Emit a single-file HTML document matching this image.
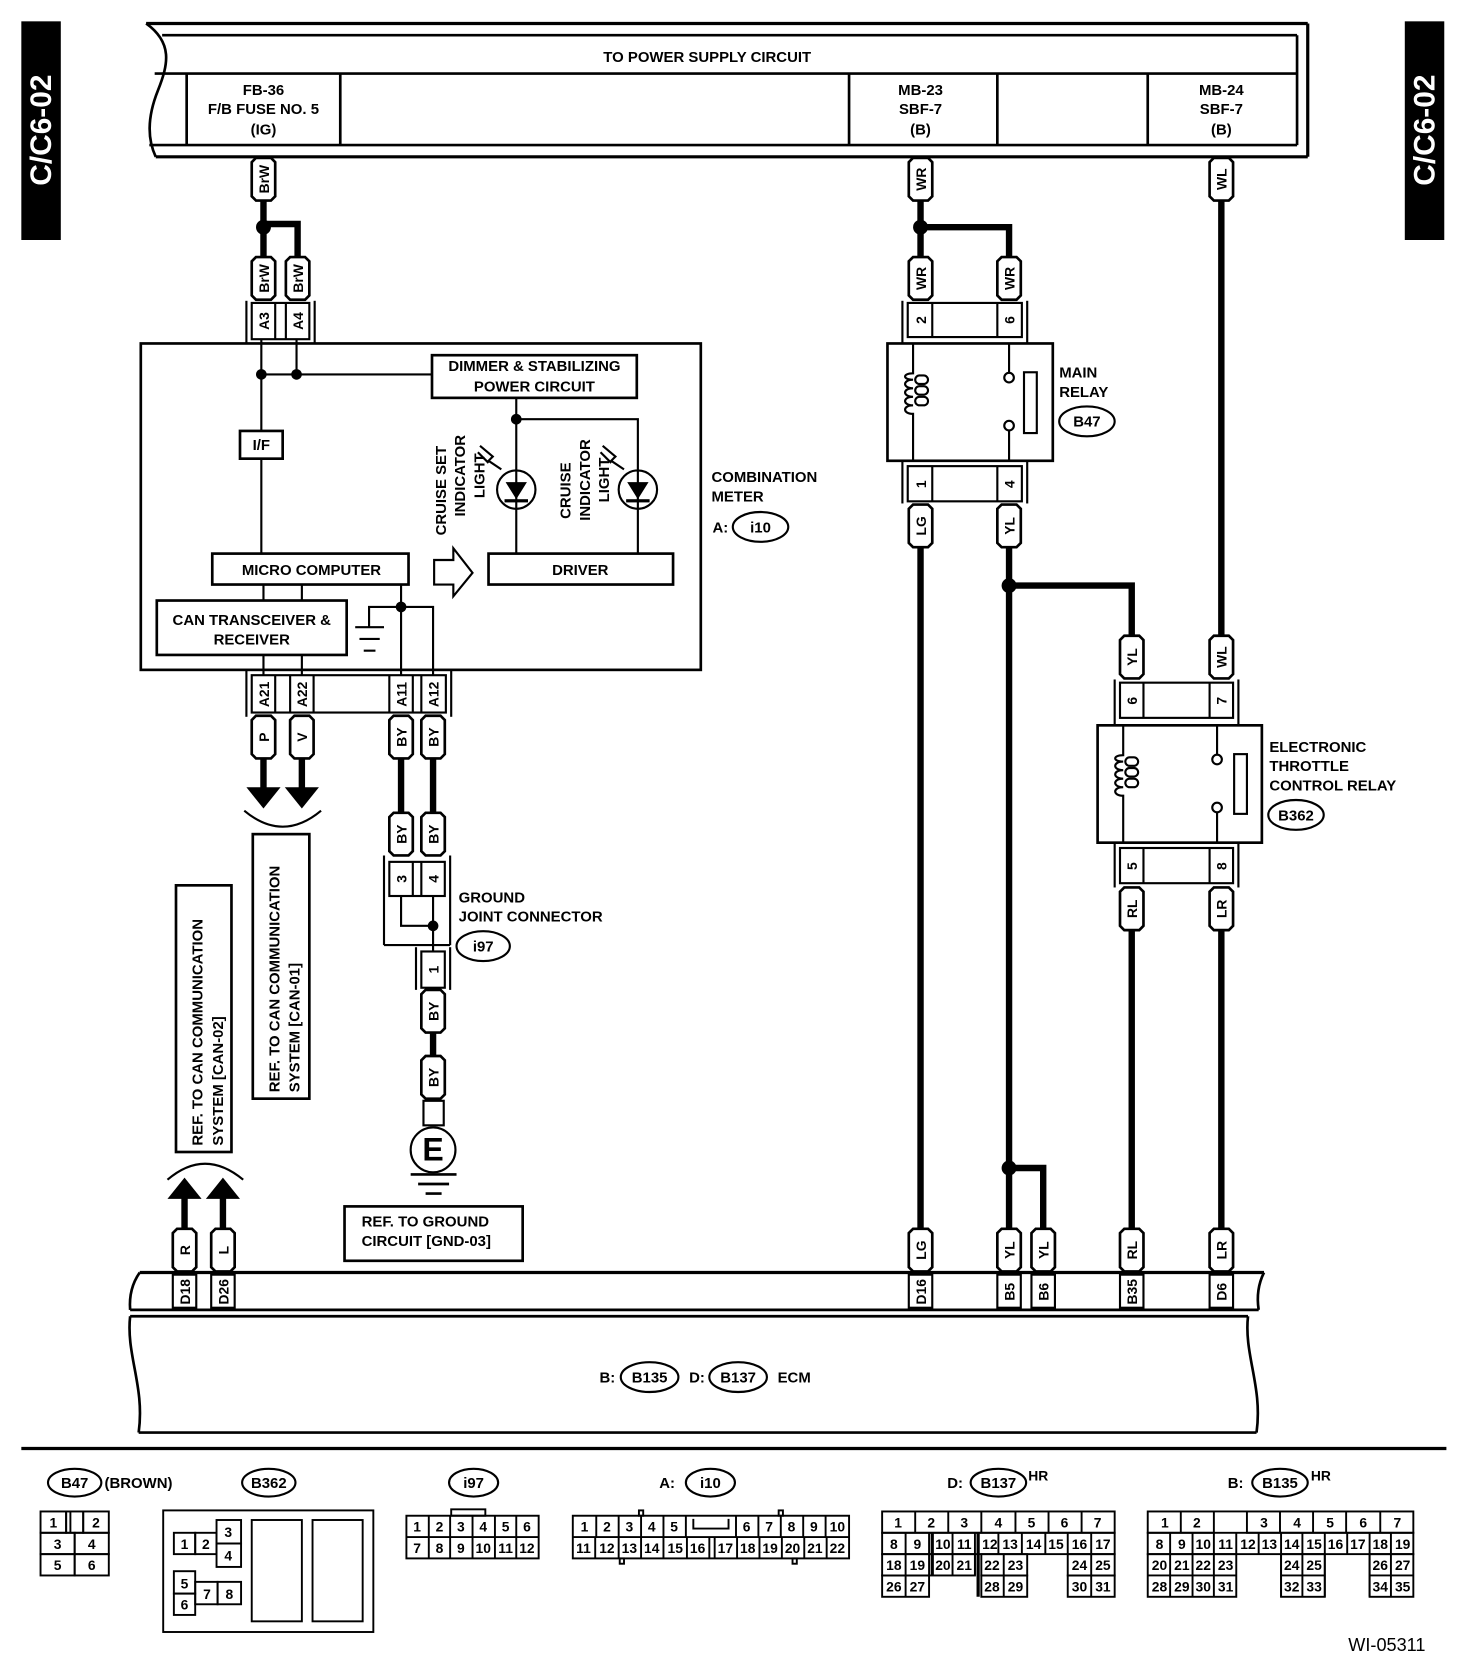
<!DOCTYPE html>
<html><head><meta charset="utf-8"><style>
html,body{margin:0;padding:0;background:#fff;}
svg{display:block;}
text{font-family:"Liberation Sans",sans-serif;font-weight:bold;fill:#000;}
</style></head><body>
<svg width="1472" height="1668" viewBox="0 0 1380 1563.75" preserveAspectRatio="none" xmlns="http://www.w3.org/2000/svg">
<defs>
<g id="pill"><path d="M-7,-20 H7 L11,-16 V16 L7,20 H-7 L-11,16 V-16 Z" fill="#fff" stroke="#000" stroke-width="2.5"/></g>
</defs>

<!-- side tabs -->
<rect x="20" y="20" width="37" height="205" fill="#000"/>
<text transform="translate(48,122) rotate(-90)" text-anchor="middle" font-size="28" style="fill:#fff">C/C6-02</text>
<rect x="1317" y="20" width="37" height="205" fill="#000"/>
<text transform="translate(1345,122) rotate(-90)" text-anchor="middle" font-size="28" style="fill:#fff">C/C6-02</text>

<!-- top power supply bar -->
<g fill="none" stroke="#000" stroke-width="2.5">
<path d="M137,22 C162,40 158,60 148,85 C138,110 138,130 146,147"/>
<line x1="137" y1="22" x2="1226" y2="22" stroke-width="3"/>
<line x1="152" y1="33" x2="1216" y2="33"/>
<line x1="145" y1="69" x2="1216" y2="69"/>
<line x1="140" y1="136" x2="1216" y2="136"/>
<line x1="146" y1="147" x2="1226" y2="147" stroke-width="3"/>
<line x1="1216" y1="33" x2="1216" y2="136"/>
<line x1="1226" y1="22" x2="1226" y2="147" stroke-width="3"/>
<line x1="175" y1="69" x2="175" y2="136"/>
<line x1="319" y1="69" x2="319" y2="136"/>
<line x1="796" y1="69" x2="796" y2="136"/>
<line x1="935" y1="69" x2="935" y2="136"/>
<line x1="1076" y1="69" x2="1076" y2="136"/>
</g>
<g font-size="14" text-anchor="middle">
<text x="663" y="58">TO POWER SUPPLY CIRCUIT</text>
<text x="247" y="89">FB-36</text><text x="247" y="107">F/B FUSE NO. 5</text><text x="247" y="126">(IG)</text>
<text x="863" y="89">MB-23</text><text x="863" y="107">SBF-7</text><text x="863" y="126">(B)</text>
<text x="1145" y="89">MB-24</text><text x="1145" y="107">SBF-7</text><text x="1145" y="126">(B)</text>
</g>

<!-- thick wires -->
<g fill="none" stroke="#000" stroke-width="6">
<line x1="247" y1="188" x2="247" y2="240"/>
<polyline points="247,210 279,210 279,240"/>
<line x1="863" y1="188" x2="863" y2="240"/>
<polyline points="863,213 946,213 946,240"/>
<line x1="1145" y1="188" x2="1145" y2="595"/>
<line x1="863" y1="514" x2="863" y2="1152"/>
<line x1="946" y1="514" x2="946" y2="1152"/>
<polyline points="946,549 1061,549 1061,595"/>
<polyline points="946,1095 978,1095 978,1152"/>
<line x1="1061" y1="872" x2="1061" y2="1152"/>
<line x1="1145" y1="872" x2="1145" y2="1152"/>
<line x1="376" y1="710" x2="376" y2="762"/>
<line x1="406" y1="710" x2="406" y2="762"/>
<line x1="406" y1="968" x2="406" y2="990"/>
<line x1="247" y1="710" x2="247" y2="740"/>
<line x1="283" y1="710" x2="283" y2="740"/>
<line x1="173" y1="1122" x2="173" y2="1152"/>
<line x1="209" y1="1122" x2="209" y2="1152"/>
</g>
<g fill="#000">
<circle cx="247" cy="213" r="7"/><circle cx="863" cy="213" r="7"/>
<circle cx="946" cy="549" r="7"/><circle cx="946" cy="1095" r="7"/>
<polygon points="231,738 263,738 247,758"/><polygon points="267,738 299,738 283,758"/>
<polygon points="157,1124 189,1124 173,1104"/><polygon points="193,1124 225,1124 209,1104"/>
</g>
<g fill="none" stroke="#000" stroke-width="2">
<path d="M229,760 Q265,790 301,760"/>
<path d="M157,1106 Q192,1076 228,1106"/>
</g>

<!-- pills -->
<g font-size="13">
<use href="#pill" x="247" y="168"/><text transform="translate(252,168) rotate(-90)" text-anchor="middle">BrW</text>
<use href="#pill" x="247" y="261"/><text transform="translate(252,261) rotate(-90)" text-anchor="middle">BrW</text>
<use href="#pill" x="279" y="261"/><text transform="translate(284,261) rotate(-90)" text-anchor="middle">BrW</text>
<use href="#pill" x="863" y="168"/><text transform="translate(868,168) rotate(-90)" text-anchor="middle">WR</text>
<use href="#pill" x="863" y="261"/><text transform="translate(868,261) rotate(-90)" text-anchor="middle">WR</text>
<use href="#pill" x="946" y="261"/><text transform="translate(951,261) rotate(-90)" text-anchor="middle">WR</text>
<use href="#pill" x="1145" y="168"/><text transform="translate(1150,168) rotate(-90)" text-anchor="middle">WL</text>
<use href="#pill" x="863" y="493"/><text transform="translate(868,493) rotate(-90)" text-anchor="middle">LG</text>
<use href="#pill" x="946" y="493"/><text transform="translate(951,493) rotate(-90)" text-anchor="middle">YL</text>
<use href="#pill" x="1061" y="616"/><text transform="translate(1066,616) rotate(-90)" text-anchor="middle">YL</text>
<use href="#pill" x="1145" y="616"/><text transform="translate(1150,616) rotate(-90)" text-anchor="middle">WL</text>
<use href="#pill" x="1061" y="852"/><text transform="translate(1066,852) rotate(-90)" text-anchor="middle">RL</text>
<use href="#pill" x="1145" y="852"/><text transform="translate(1150,852) rotate(-90)" text-anchor="middle">LR</text>
<use href="#pill" x="247" y="691"/><text transform="translate(252,691) rotate(-90)" text-anchor="middle">P</text>
<use href="#pill" x="283" y="691"/><text transform="translate(288,691) rotate(-90)" text-anchor="middle">V</text>
<use href="#pill" x="376" y="691"/><text transform="translate(381,691) rotate(-90)" text-anchor="middle">BY</text>
<use href="#pill" x="406" y="691"/><text transform="translate(411,691) rotate(-90)" text-anchor="middle">BY</text>
<use href="#pill" x="376" y="782"/><text transform="translate(381,782) rotate(-90)" text-anchor="middle">BY</text>
<use href="#pill" x="406" y="782"/><text transform="translate(411,782) rotate(-90)" text-anchor="middle">BY</text>
<use href="#pill" x="406" y="948"/><text transform="translate(411,948) rotate(-90)" text-anchor="middle">BY</text>
<use href="#pill" x="406" y="1010"/><text transform="translate(411,1010) rotate(-90)" text-anchor="middle">BY</text>
<use href="#pill" x="173" y="1172"/><text transform="translate(178,1172) rotate(-90)" text-anchor="middle">R</text>
<use href="#pill" x="209" y="1172"/><text transform="translate(214,1172) rotate(-90)" text-anchor="middle">L</text>
<use href="#pill" x="863" y="1172"/><text transform="translate(868,1172) rotate(-90)" text-anchor="middle">LG</text>
<use href="#pill" x="946" y="1172"/><text transform="translate(951,1172) rotate(-90)" text-anchor="middle">YL</text>
<use href="#pill" x="978" y="1172"/><text transform="translate(983,1172) rotate(-90)" text-anchor="middle">YL</text>
<use href="#pill" x="1061" y="1172"/><text transform="translate(1066,1172) rotate(-90)" text-anchor="middle">RL</text>
<use href="#pill" x="1145" y="1172"/><text transform="translate(1150,1172) rotate(-90)" text-anchor="middle">LR</text>
</g>

<!-- connectors (shell + pins) -->
<g fill="none" stroke="#000" stroke-width="2">
<!-- A3 A4 -->
<line x1="231" y1="282" x2="231" y2="322"/><line x1="295" y1="282" x2="295" y2="322"/>
<rect x="236" y="284" width="54" height="34"/><line x1="258" y1="284" x2="258" y2="318"/><line x1="268" y1="284" x2="268" y2="318"/>
<!-- 2 6 -->
<line x1="846" y1="282" x2="846" y2="322"/><line x1="963" y1="282" x2="963" y2="322"/>
<rect x="851" y="284" width="107" height="32"/><line x1="874" y1="284" x2="874" y2="316"/><line x1="935" y1="284" x2="935" y2="316"/>
<!-- 1 4 -->
<line x1="846" y1="432" x2="846" y2="472"/><line x1="963" y1="432" x2="963" y2="472"/>
<rect x="851" y="437" width="107" height="33"/><line x1="874" y1="437" x2="874" y2="470"/><line x1="935" y1="437" x2="935" y2="470"/>
<!-- 6 7 -->
<line x1="1045" y1="637" x2="1045" y2="680"/><line x1="1161" y1="637" x2="1161" y2="680"/>
<rect x="1050" y="640" width="106" height="33"/><line x1="1072" y1="640" x2="1072" y2="673"/><line x1="1134" y1="640" x2="1134" y2="673"/>
<!-- 5 8 -->
<line x1="1045" y1="790" x2="1045" y2="832"/><line x1="1161" y1="790" x2="1161" y2="832"/>
<rect x="1050" y="795" width="106" height="33"/><line x1="1072" y1="795" x2="1072" y2="828"/><line x1="1134" y1="795" x2="1134" y2="828"/>
<!-- A21 A22 A11 A12 -->
<line x1="231" y1="628" x2="231" y2="672"/><line x1="423" y1="628" x2="423" y2="672"/>
<rect x="236" y="633" width="182" height="35"/>
<line x1="258" y1="633" x2="258" y2="668"/><line x1="272" y1="633" x2="272" y2="668"/><line x1="294" y1="633" x2="294" y2="668"/>
<line x1="365" y1="633" x2="365" y2="668"/><line x1="387" y1="633" x2="387" y2="668"/><line x1="395" y1="633" x2="395" y2="668"/>
<!-- ground joint 3 4 -->
<line x1="360" y1="802" x2="360" y2="886"/><line x1="422" y1="802" x2="422" y2="886"/>
<rect x="365" y="808" width="52" height="32"/><line x1="387" y1="808" x2="387" y2="840"/><line x1="395" y1="808" x2="395" y2="840"/>
<line x1="360" y1="886" x2="422" y2="886"/>
<polyline points="376,840 376,868 406,868"/><line x1="406" y1="840" x2="406" y2="892"/>
<!-- 1 -->
<line x1="390" y1="888" x2="390" y2="928"/><line x1="422" y1="888" x2="422" y2="928"/>
<rect x="395" y="892" width="22" height="34"/>
<!-- ground E -->
<rect x="397" y="1032" width="19" height="23"/>
<circle cx="406" cy="1078" r="21"/>
</g>
<circle cx="406" cy="868" r="5"/>
<g stroke="#000" stroke-width="2.5">
<line x1="385" y1="1101" x2="428" y2="1101"/><line x1="392" y1="1110" x2="421" y2="1110"/><line x1="399" y1="1119" x2="414" y2="1119"/>
</g>
<text x="406" y="1088" font-size="30" text-anchor="middle" font-family="Liberation Sans">E</text>

<g font-size="13" text-anchor="middle">
<text transform="translate(252,301) rotate(-90)">A3</text>
<text transform="translate(284,301) rotate(-90)">A4</text>
<text transform="translate(868,300) rotate(-90)">2</text>
<text transform="translate(951,300) rotate(-90)">6</text>
<text transform="translate(868,454) rotate(-90)">1</text>
<text transform="translate(951,454) rotate(-90)">4</text>
<text transform="translate(1066,657) rotate(-90)">6</text>
<text transform="translate(1150,657) rotate(-90)">7</text>
<text transform="translate(1066,812) rotate(-90)">5</text>
<text transform="translate(1150,812) rotate(-90)">8</text>
<text transform="translate(252,651) rotate(-90)">A21</text>
<text transform="translate(288,651) rotate(-90)">A22</text>
<text transform="translate(381,651) rotate(-90)">A11</text>
<text transform="translate(411,651) rotate(-90)">A12</text>
<text transform="translate(381,824) rotate(-90)">3</text>
<text transform="translate(411,824) rotate(-90)">4</text>
<text transform="translate(411,909) rotate(-90)">1</text>
</g>

<!-- combination meter -->
<g fill="none" stroke="#000" stroke-width="2.5">
<rect x="132" y="322" width="525" height="306"/>
<rect x="405" y="333" width="192" height="40"/>
<rect x="225" y="404" width="40" height="26"/>
<rect x="199" y="519" width="184" height="29"/>
<rect x="147" y="563" width="178" height="51"/>
<rect x="458" y="519" width="173" height="29"/>
</g>
<g fill="none" stroke="#000" stroke-width="2">
<line x1="245" y1="318" x2="245" y2="404"/><line x1="245" y1="430" x2="245" y2="519"/>
<line x1="278" y1="318" x2="278" y2="351"/>
<line x1="245" y1="351" x2="405" y2="351"/>
<line x1="484" y1="373" x2="484" y2="519"/>
<polyline points="484,393 598,393 598,519"/>
<circle cx="484" cy="459" r="18"/><circle cx="598" cy="459" r="18"/>
<line x1="247" y1="548" x2="247" y2="563"/><line x1="283" y1="548" x2="283" y2="563"/>
<line x1="247" y1="614" x2="247" y2="633"/><line x1="283" y1="614" x2="283" y2="633"/>
<line x1="376" y1="548" x2="376" y2="633"/>
<polyline points="346,588 346,569 406,569 406,633"/>
<line x1="333" y1="588" x2="360" y2="588"/><line x1="337" y1="599" x2="356" y2="599"/><line x1="341" y1="610" x2="352" y2="610"/>
<path d="M407,525 H425 V514 L443,537 L425,559 V548 H407 Z"/>
</g>
<g fill="#000">
<circle cx="245" cy="351" r="5"/><circle cx="278" cy="351" r="5"/><circle cx="484" cy="393" r="5"/><circle cx="376" cy="569" r="5"/>
<polygon points="474,452 494,452 484,468"/><rect x="473" y="468" width="22" height="3"/>
<polygon points="588,452 608,452 598,468"/><rect x="587" y="468" width="22" height="3"/>
</g>
<g fill="none" stroke="#000" stroke-width="2">
<path d="M450,418 L462,428 L458,432 L470,440"/><path d="M448,424 L458,434"/>
<path d="M565,418 L577,428 L573,432 L585,440"/><path d="M563,424 L573,434"/>
</g>
<g font-size="14" text-anchor="middle">
<text x="501" y="348">DIMMER &amp; STABILIZING</text>
<text x="501" y="367">POWER CIRCUIT</text>
<text x="245" y="422">I/F</text>
<text x="292" y="539">MICRO COMPUTER</text>
<text x="544" y="539">DRIVER</text>
<text x="236" y="586">CAN TRANSCEIVER &amp;</text>
<text x="236" y="604">RECEIVER</text>
<text transform="translate(418,460) rotate(-90)">CRUISE SET</text>
<text transform="translate(436,446) rotate(-90)">INDICATOR</text>
<text transform="translate(454,446) rotate(-90)">LIGHT</text>
<text transform="translate(535,460) rotate(-90)">CRUISE</text>
<text transform="translate(553,450) rotate(-90)">INDICATOR</text>
<text transform="translate(571,450) rotate(-90)">LIGHT</text>
</g>
<g font-size="14">
<text x="667" y="452">COMBINATION</text>
<text x="667" y="470">METER</text>
<text x="668" y="499">A:</text>
<text x="993" y="354">MAIN</text>
<text x="993" y="372">RELAY</text>
<text x="1190" y="705">ELECTRONIC</text>
<text x="1190" y="723">THROTTLE</text>
<text x="1190" y="741">CONTROL RELAY</text>
<text x="430" y="846">GROUND</text>
<text x="430" y="864">JOINT CONNECTOR</text>
</g>
<g fill="none" stroke="#000" stroke-width="2">
<ellipse cx="713" cy="494" rx="26" ry="14"/>
<ellipse cx="1019" cy="395" rx="26" ry="14"/>
<ellipse cx="1215" cy="764" rx="26" ry="14"/>
<ellipse cx="453" cy="887" rx="25" ry="14"/>
</g>
<g font-size="14" text-anchor="middle">
<text x="713" y="499">i10</text><text x="1019" y="400">B47</text><text x="1215" y="769">B362</text><text x="453" y="892">i97</text>
</g>

<!-- relays -->
<g fill="none" stroke="#000" stroke-width="2.5">
<rect x="832" y="322" width="155" height="110"/>
<rect x="1029" y="680" width="154" height="110"/>
</g>
<g fill="none" stroke="#000" stroke-width="2">
<path d="M856,322 V350 C846,350 846,356 856,356 C846,356 846,364 856,364 C846,364 846,372 856,372 C846,372 846,380 856,380 C846,380 846,388 856,388 V432"/>
<rect x="858" y="352" width="12" height="8" rx="4"/><rect x="858" y="362" width="12" height="8" rx="4"/><rect x="858" y="372" width="12" height="8" rx="4"/>
<line x1="946" y1="322" x2="946" y2="349"/><circle cx="946" cy="354" r="4.5"/>
<line x1="946" y1="432" x2="946" y2="404"/><circle cx="946" cy="399" r="4.5"/>
<rect x="960" y="349" width="12" height="57"/>
<path d="M1053,680 V708 C1043,708 1043,714 1053,714 C1043,714 1043,722 1053,722 C1043,722 1043,730 1053,730 C1043,730 1043,738 1053,738 C1043,738 1043,746 1053,746 V790"/>
<rect x="1055" y="710" width="12" height="8" rx="4"/><rect x="1055" y="720" width="12" height="8" rx="4"/><rect x="1055" y="730" width="12" height="8" rx="4"/>
<line x1="1141" y1="680" x2="1141" y2="707"/><circle cx="1141" cy="712" r="4.5"/>
<line x1="1141" y1="790" x2="1141" y2="762"/><circle cx="1141" cy="757" r="4.5"/>
<rect x="1157" y="707" width="12" height="56"/>
</g>

<!-- ref boxes -->
<g fill="none" stroke="#000" stroke-width="2.5">
<rect x="237" y="782" width="53" height="248"/>
<rect x="165" y="830" width="52" height="250"/>
<rect x="323" y="1131" width="167" height="51"/>
</g>
<g font-size="14">
<text transform="translate(262,1024) rotate(-90)">REF. TO CAN COMMUNICATION</text>
<text transform="translate(281,1024) rotate(-90)">SYSTEM [CAN-01]</text>
<text transform="translate(190,1074) rotate(-90)">REF. TO CAN COMMUNICATION</text>
<text transform="translate(209,1074) rotate(-90)">SYSTEM [CAN-02]</text>
<text x="339" y="1150">REF. TO GROUND</text>
<text x="339" y="1168">CIRCUIT [GND-03]</text>
</g>

<!-- ECM -->
<g fill="none" stroke="#000" stroke-width="2.5">
<line x1="131" y1="1193" x2="1185" y2="1193" stroke-width="3"/>
<path d="M131,1193 C124,1203 121,1215 122,1228"/>
<path d="M1185,1193 C1180,1203 1178,1215 1180,1228"/>
<line x1="122" y1="1228" x2="1180" y2="1228"/>
<line x1="122" y1="1234" x2="1170" y2="1234"/>
<line x1="130" y1="1343" x2="1178" y2="1343"/>
<path d="M122,1234 C118,1270 136,1300 130,1343"/>
<path d="M1170,1234 C1166,1270 1184,1300 1178,1343"/>
</g>
<g fill="none" stroke="#000" stroke-width="2">
<rect x="162" y="1195" width="22" height="31"/><rect x="198" y="1195" width="22" height="31"/>
<rect x="852" y="1195" width="22" height="31"/><rect x="935" y="1195" width="22" height="31"/>
<rect x="967" y="1195" width="22" height="31"/><rect x="1050" y="1195" width="22" height="31"/>
<rect x="1134" y="1195" width="22" height="31"/>
</g>
<g font-size="13" text-anchor="middle">
<text transform="translate(178,1211) rotate(-90)">D18</text>
<text transform="translate(214,1211) rotate(-90)">D26</text>
<text transform="translate(868,1211) rotate(-90)">D16</text>
<text transform="translate(951,1211) rotate(-90)">B5</text>
<text transform="translate(983,1211) rotate(-90)">B6</text>
<text transform="translate(1066,1211) rotate(-90)">B35</text>
<text transform="translate(1150,1211) rotate(-90)">D6</text>
</g>
<g font-size="14">
<text x="562" y="1296">B:</text>
<text x="646" y="1296">D:</text>
<text x="729" y="1296">ECM</text>
</g>
<g fill="none" stroke="#000" stroke-width="2">
<ellipse cx="609" cy="1291" rx="27" ry="14"/>
<ellipse cx="692" cy="1291" rx="27" ry="14"/>
</g>
<g font-size="14" text-anchor="middle"><text x="609" y="1296">B135</text><text x="692" y="1296">B137</text></g>

<line x1="20" y1="1358" x2="1356" y2="1358" stroke="#000" stroke-width="3"/>

<!-- connector faces -->
<g fill="none" stroke="#000" stroke-width="2">
<ellipse cx="70" cy="1390" rx="25" ry="13"/>
<ellipse cx="252" cy="1390" rx="25" ry="13"/>
<ellipse cx="444" cy="1390" rx="23" ry="13"/>
<ellipse cx="666" cy="1390" rx="23" ry="13"/>
<ellipse cx="936" cy="1390" rx="26" ry="13"/>
<ellipse cx="1200" cy="1390" rx="26" ry="13"/>
</g>
<g font-size="14">
<text x="70" y="1395" text-anchor="middle">B47</text><text x="98" y="1395">(BROWN)</text>
<text x="252" y="1395" text-anchor="middle">B362</text>
<text x="444" y="1395" text-anchor="middle">i97</text>
<text x="618" y="1395">A:</text><text x="666" y="1395" text-anchor="middle">i10</text>
<text x="888" y="1395">D:</text><text x="936" y="1395" text-anchor="middle">B137</text><text x="964" y="1388" font-size="13">HR</text>
<text x="1151" y="1395">B:</text><text x="1200" y="1395" text-anchor="middle">B135</text><text x="1229" y="1388" font-size="13">HR</text>
<text x="1264" y="1548" font-size="17" style="font-weight:normal">WI-05311</text>
</g>

<g fill="none" stroke="#000" stroke-width="1.8">
<!-- B47 -->
<rect x="38" y="1417" width="24" height="20"/><rect x="62" y="1417" width="16" height="20"/><line x1="66" y1="1417" x2="66" y2="1437"/><rect x="78" y="1417" width="24" height="20"/>
<rect x="38" y="1437" width="32" height="20"/><rect x="70" y="1437" width="32" height="20"/>
<rect x="38" y="1457" width="32" height="20"/><rect x="70" y="1457" width="32" height="20"/>
<!-- B362 -->
<rect x="153" y="1416" width="197" height="114"/>
<rect x="163" y="1437" width="20" height="20"/><rect x="183" y="1437" width="20" height="20"/>
<rect x="203" y="1425" width="23" height="22"/><rect x="203" y="1447" width="23" height="22"/>
<rect x="163" y="1473" width="20" height="21"/><rect x="163" y="1494" width="20" height="20"/>
<rect x="183" y="1483" width="21" height="21"/><rect x="204" y="1483" width="22" height="21"/>
<rect x="236" y="1425" width="47" height="95"/><rect x="293" y="1425" width="47" height="95"/>
<!-- i97 -->
<rect x="423" y="1415" width="32" height="6"/>
<rect x="381" y="1421" width="124" height="40"/>
<line x1="381" y1="1441" x2="505" y2="1441"/>
<line x1="402" y1="1421" x2="402" y2="1461"/><line x1="422" y1="1421" x2="422" y2="1461"/><line x1="443" y1="1421" x2="443" y2="1461"/><line x1="464" y1="1421" x2="464" y2="1461"/><line x1="484" y1="1421" x2="484" y2="1461"/>
<!-- i10 -->
<rect x="537" y="1421" width="259" height="40"/>
<line x1="537" y1="1441" x2="796" y2="1441"/>
<rect x="599" y="1416" width="4" height="5"/><rect x="730" y="1416" width="4" height="5"/>
<rect x="581" y="1461" width="4" height="5"/><rect x="743" y="1461" width="4" height="5"/>
<line x1="559" y1="1421" x2="559" y2="1441"/><line x1="580" y1="1421" x2="580" y2="1441"/><line x1="601" y1="1421" x2="601" y2="1441"/><line x1="622" y1="1421" x2="622" y2="1441"/><line x1="643" y1="1421" x2="643" y2="1441"/>
<polyline points="650,1424 650,1433 683,1433 683,1424"/>
<line x1="690" y1="1421" x2="690" y2="1441"/><line x1="711" y1="1421" x2="711" y2="1441"/><line x1="732" y1="1421" x2="732" y2="1441"/><line x1="753" y1="1421" x2="753" y2="1441"/><line x1="774" y1="1421" x2="774" y2="1441"/>
<line x1="558" y1="1441" x2="558" y2="1461"/><line x1="580" y1="1441" x2="580" y2="1461"/><line x1="601" y1="1441" x2="601" y2="1461"/><line x1="622" y1="1441" x2="622" y2="1461"/><line x1="644" y1="1441" x2="644" y2="1461"/><line x1="665" y1="1441" x2="665" y2="1461"/><line x1="670" y1="1441" x2="670" y2="1461"/><line x1="691" y1="1441" x2="691" y2="1461"/><line x1="712" y1="1441" x2="712" y2="1461"/><line x1="733" y1="1441" x2="733" y2="1461"/><line x1="754" y1="1441" x2="754" y2="1461"/><line x1="775" y1="1441" x2="775" y2="1461"/>
<!-- B137 -->
<rect x="827" y="1417" width="218" height="20"/>
<line x1="858" y1="1417" x2="858" y2="1437"/><line x1="889" y1="1417" x2="889" y2="1437"/><line x1="920" y1="1417" x2="920" y2="1437"/><line x1="952" y1="1417" x2="952" y2="1437"/><line x1="983" y1="1417" x2="983" y2="1437"/><line x1="1014" y1="1417" x2="1014" y2="1437"/>
<rect x="827" y="1437" width="218" height="20"/>
<line x1="849" y1="1437" x2="849" y2="1457"/><line x1="871" y1="1437" x2="871" y2="1477"/><line x1="893" y1="1437" x2="893" y2="1477"/><line x1="914" y1="1437" x2="914" y2="1477"/><line x1="936" y1="1437" x2="936" y2="1457"/><line x1="958" y1="1437" x2="958" y2="1457"/><line x1="980" y1="1437" x2="980" y2="1457"/><line x1="1001" y1="1437" x2="1001" y2="1457"/><line x1="1023" y1="1437" x2="1023" y2="1457"/>
<rect x="827" y="1457" width="87" height="20"/><line x1="849" y1="1457" x2="849" y2="1497"/>
<rect x="920" y="1457" width="43" height="20"/><line x1="941" y1="1457" x2="941" y2="1497"/>
<rect x="1001" y="1457" width="44" height="20"/><line x1="1023" y1="1457" x2="1023" y2="1497"/>
<rect x="827" y="1477" width="44" height="20"/><rect x="920" y="1477" width="43" height="20"/><rect x="1001" y="1477" width="44" height="20"/>
<line x1="874" y1="1437" x2="874" y2="1477" stroke-width="3"/><line x1="917" y1="1437" x2="917" y2="1497" stroke-width="3"/>
<!-- B135 -->
<rect x="1076" y="1417" width="62" height="20"/><line x1="1107" y1="1417" x2="1107" y2="1437"/>
<rect x="1169" y="1417" width="156" height="20"/><line x1="1200" y1="1417" x2="1200" y2="1437"/><line x1="1231" y1="1417" x2="1231" y2="1437"/><line x1="1262" y1="1417" x2="1262" y2="1437"/><line x1="1294" y1="1417" x2="1294" y2="1437"/>
<line x1="1138" y1="1417" x2="1169" y2="1417"/>
<rect x="1076" y="1437" width="249" height="20"/>
<line x1="1097" y1="1437" x2="1097" y2="1497"/><line x1="1118" y1="1437" x2="1118" y2="1497"/><line x1="1138" y1="1437" x2="1138" y2="1497"/><line x1="1159" y1="1437" x2="1159" y2="1457"/><line x1="1180" y1="1437" x2="1180" y2="1457"/><line x1="1201" y1="1437" x2="1201" y2="1497"/><line x1="1221" y1="1437" x2="1221" y2="1497"/><line x1="1242" y1="1437" x2="1242" y2="1497"/><line x1="1263" y1="1437" x2="1263" y2="1457"/><line x1="1284" y1="1437" x2="1284" y2="1497"/><line x1="1304" y1="1437" x2="1304" y2="1497"/>
<rect x="1076" y="1457" width="83" height="40"/><line x1="1076" y1="1477" x2="1159" y2="1477"/>
<rect x="1201" y="1457" width="41" height="40"/><line x1="1201" y1="1477" x2="1242" y2="1477"/>
<rect x="1284" y="1457" width="41" height="40"/><line x1="1284" y1="1477" x2="1325" y2="1477"/>
</g>
<g font-size="13" text-anchor="middle" style="font-weight:normal">
<text x="50" y="1432">1</text><text x="90" y="1432">2</text><text x="54" y="1452">3</text><text x="86" y="1452">4</text><text x="54" y="1472">5</text><text x="86" y="1472">6</text>
<text x="173" y="1452">1</text><text x="193" y="1452">2</text><text x="214" y="1441">3</text><text x="214" y="1463">4</text><text x="173" y="1489">5</text><text x="173" y="1509">6</text><text x="194" y="1499">7</text><text x="215" y="1499">8</text>
<text x="391" y="1436">1</text><text x="412" y="1436">2</text><text x="432" y="1436">3</text><text x="453" y="1436">4</text><text x="474" y="1436">5</text><text x="494" y="1436">6</text>
<text x="391" y="1456">7</text><text x="412" y="1456">8</text><text x="432" y="1456">9</text><text x="453" y="1456">10</text><text x="474" y="1456">11</text><text x="494" y="1456">12</text>
<text x="548" y="1436">1</text><text x="569" y="1436">2</text><text x="590" y="1436">3</text><text x="611" y="1436">4</text><text x="632" y="1436">5</text><text x="700" y="1436">6</text><text x="721" y="1436">7</text><text x="742" y="1436">8</text><text x="763" y="1436">9</text><text x="785" y="1436">10</text>
<text x="547" y="1456">11</text><text x="569" y="1456">12</text><text x="590" y="1456">13</text><text x="611" y="1456">14</text><text x="633" y="1456">15</text><text x="654" y="1456">16</text><text x="680" y="1456">17</text><text x="701" y="1456">18</text><text x="722" y="1456">19</text><text x="743" y="1456">20</text><text x="764" y="1456">21</text><text x="785" y="1456">22</text>
<text x="842" y="1432">1</text><text x="873" y="1432">2</text><text x="904" y="1432">3</text><text x="936" y="1432">4</text><text x="967" y="1432">5</text><text x="998" y="1432">6</text><text x="1029" y="1432">7</text>
<text x="838" y="1452">8</text><text x="860" y="1452">9</text><text x="884" y="1452">10</text><text x="904" y="1452">11</text><text x="928" y="1452">12</text><text x="947" y="1452">13</text><text x="969" y="1452">14</text><text x="990" y="1452">15</text><text x="1012" y="1452">16</text><text x="1034" y="1452">17</text>
<text x="838" y="1472">18</text><text x="860" y="1472">19</text><text x="884" y="1472">20</text><text x="904" y="1472">21</text><text x="930" y="1472">22</text><text x="952" y="1472">23</text><text x="1012" y="1472">24</text><text x="1034" y="1472">25</text>
<text x="838" y="1492">26</text><text x="860" y="1492">27</text><text x="930" y="1492">28</text><text x="952" y="1492">29</text><text x="1012" y="1492">30</text><text x="1034" y="1492">31</text>
<text x="1092" y="1432">1</text><text x="1122" y="1432">2</text><text x="1185" y="1432">3</text><text x="1216" y="1432">4</text><text x="1247" y="1432">5</text><text x="1278" y="1432">6</text><text x="1310" y="1432">7</text>
<text x="1087" y="1452">8</text><text x="1108" y="1452">9</text><text x="1128" y="1452">10</text><text x="1149" y="1452">11</text><text x="1170" y="1452">12</text><text x="1190" y="1452">13</text><text x="1211" y="1452">14</text><text x="1232" y="1452">15</text><text x="1252" y="1452">16</text><text x="1273" y="1452">17</text><text x="1294" y="1452">18</text><text x="1315" y="1452">19</text>
<text x="1087" y="1472">20</text><text x="1108" y="1472">21</text><text x="1128" y="1472">22</text><text x="1149" y="1472">23</text><text x="1211" y="1472">24</text><text x="1232" y="1472">25</text><text x="1294" y="1472">26</text><text x="1315" y="1472">27</text>
<text x="1087" y="1492">28</text><text x="1108" y="1492">29</text><text x="1128" y="1492">30</text><text x="1149" y="1492">31</text><text x="1211" y="1492">32</text><text x="1232" y="1492">33</text><text x="1294" y="1492">34</text><text x="1315" y="1492">35</text>
</g>
</svg>
</body></html>
